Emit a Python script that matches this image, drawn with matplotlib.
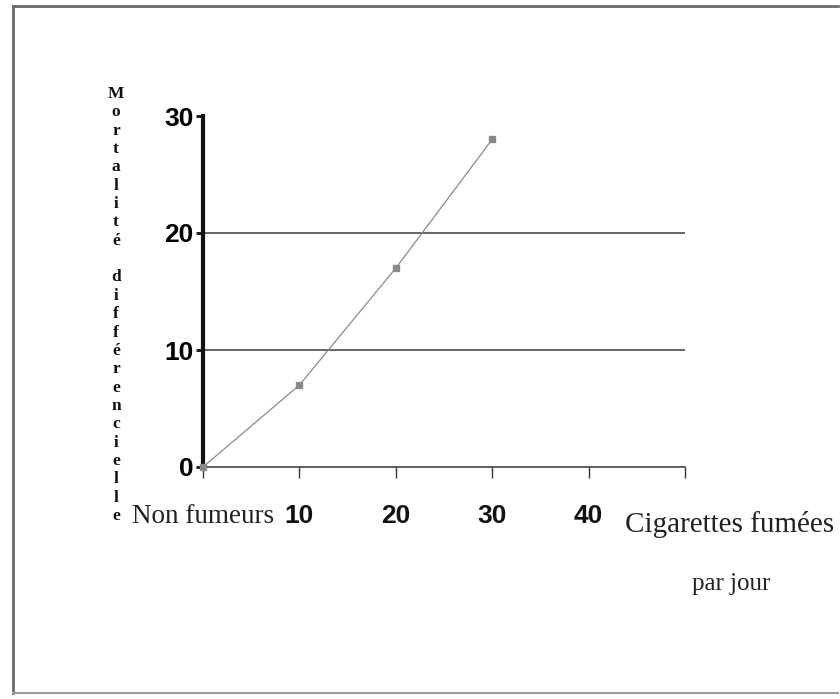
import matplotlib
matplotlib.use("Agg")
import matplotlib.pyplot as plt
from matplotlib.lines import Line2D

# -------------------------------------------------------------------------------------
# Data
cigarettes = [0, 10, 20, 30]
mortalite = [0, 7, 17, 28]
x_ticks = [0, 10, 20, 30, 40, 50]
x_labels = ['Non fumeurs', '10', '20', '30', '40', '']
y_ticks = [0, 10, 20, 30]
y_labels = ['0', '10', '20', '30']
y_title = 'Mortalité différencielle'
x_title = ['Cigarettes fumées', 'par jour']
# -------------------------------------------------------------------------------------

fig = plt.figure(figsize=(8.4, 6.99), dpi=100)
ax = fig.add_axes([203 / 840, 1 - 467 / 699, (685 - 203) / 840, (467 - 116) / 699])

# grid lines at 10 and 20
for yv in [10, 20]:
    ax.axhline(yv, color='#3a3a3a', lw=1.1, zorder=1)

ax.plot(cigarettes, mortalite, color='#8a8a8a', lw=0.9, marker='s', ms=5,
        mfc='#8a8a8a', mec='#8a8a8a', zorder=3, clip_on=False)

ax.set_xlim(0, 50)
ax.set_ylim(0, 30)

for side in ['top', 'right']:
    ax.spines[side].set_visible(False)
ax.spines['left'].set_linewidth(3.0)
ax.spines['left'].set_color('#111111')
ax.spines['bottom'].set_linewidth(1.1)
ax.spines['bottom'].set_color('#333333')

ax.set_xticks(x_ticks)
ax.set_xticklabels([])
ax.set_yticks(y_ticks)
ax.set_yticklabels(y_labels, fontfamily='Liberation Sans', fontweight='bold', fontsize=19)
ax.tick_params(axis='y', direction='out', length=5, width=2, color='#111111', pad=2)
ax.tick_params(axis='x', direction='out', length=8, width=1, color='#333333')

# x tick labels drawn below the axis
for xv, lab in zip(x_ticks, x_labels):
    if not lab:
        continue
    if xv == 0:
        ax.text(xv, -0.14, lab, transform=ax.get_xaxis_transform(), ha='center', va='center',
                fontfamily='Liberation Serif', fontsize=19.5, color='#222222')
    else:
        ax.text(xv, -0.14, lab, transform=ax.get_xaxis_transform(), ha='center', va='center',
                fontfamily='Liberation Sans', fontweight='bold', fontsize=19, color='#111111')

# x title
fig.text(730 / 840, 1 - 524 / 699, x_title[0], ha='center', va='center',
         fontfamily='Liberation Serif', fontsize=21, color='#222222')
fig.text(731 / 840, 1 - 584 / 699, x_title[1], ha='center', va='center',
         fontfamily='Liberation Serif', fontsize=18, color='#222222')

# vertical stacked y title
fig.text(116 / 840, 1 - 305 / 699, '\n'.join(y_title), ha='center', va='center',
         fontfamily='Liberation Serif', fontweight='bold', fontsize=12.5,
         linespacing=1.195, color='#111111')

# scanned page frame
fig.add_artist(Line2D([13 / 840, 13 / 840], [1 - 6 / 699, 1 - 693 / 699],
                      transform=fig.transFigure, color='#6a6a6a', lw=2.0))
fig.add_artist(Line2D([13 / 840, 838 / 840], [1 - 6 / 699, 1 - 6 / 699],
                      transform=fig.transFigure, color='#6a6a6a', lw=2.0))
fig.add_artist(Line2D([13 / 840, 838 / 840], [1 - 693 / 699, 1 - 693 / 699],
                      transform=fig.transFigure, color='#9a9a9a', lw=1.5))

fig.savefig('out.png', dpi=100)
